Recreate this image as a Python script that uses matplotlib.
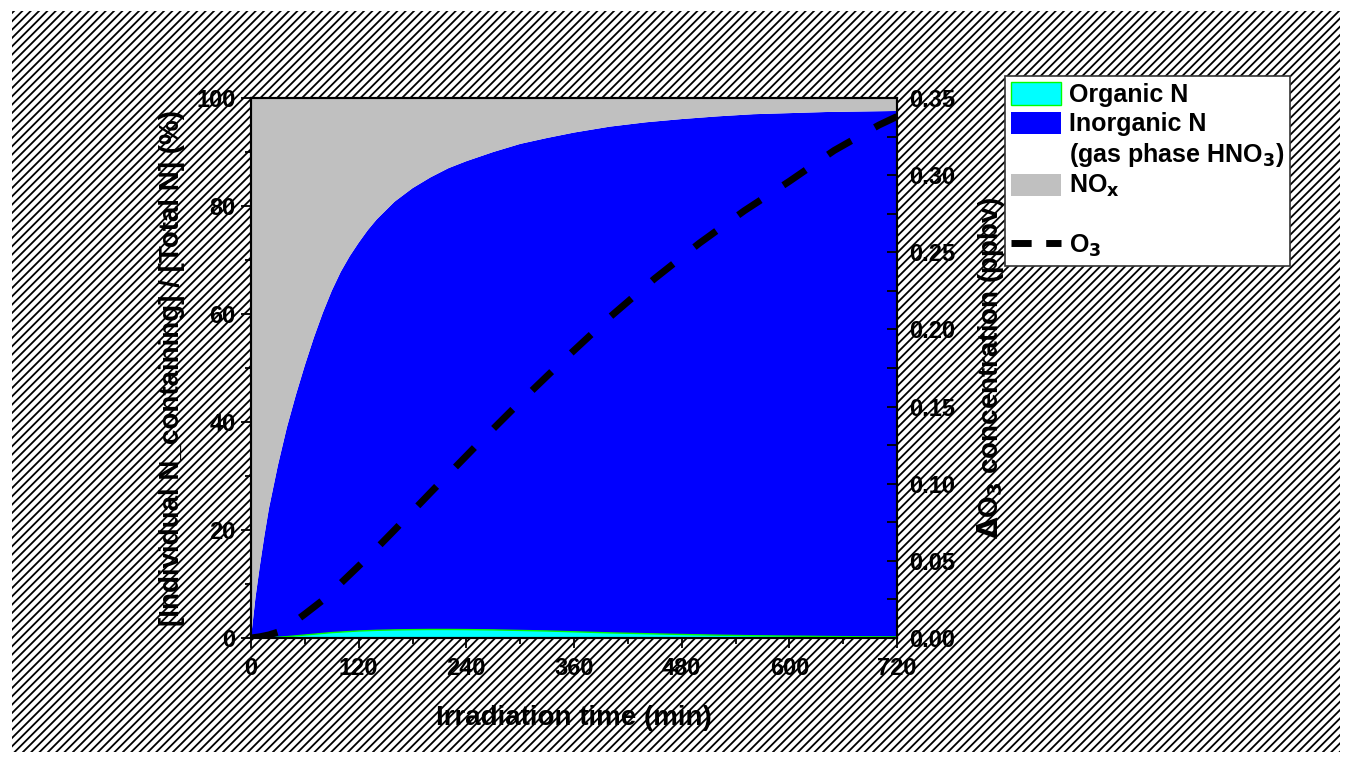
import numpy as np
import matplotlib
matplotlib.use("Agg")
import matplotlib.pyplot as plt
from matplotlib.patches import Patch, Rectangle
from matplotlib.lines import Line2D
from matplotlib.ticker import MultipleLocator, FormatStrFormatter

# irradiation time (min) for the nitrogen budget
time_n = [0, 5, 10, 15, 20, 30, 40, 50, 60, 70, 80, 90, 100, 110, 120, 130, 140, 160,
          180, 200, 220, 240, 270, 300, 330, 360, 400, 440, 480, 520, 560, 600, 640, 680, 720]
# share of total N (%)
organic_n = [0, 0.02, 0.05, 0.08, 0.1, 0.15, 0.25, 0.4, 0.55, 0.7, 0.85, 1.0, 1.1, 1.2,
             1.3, 1.36, 1.42, 1.5, 1.55, 1.58, 1.58, 1.56, 1.5, 1.4, 1.3, 1.15, 0.95, 0.8,
             0.65, 0.52, 0.42, 0.35, 0.28, 0.23, 0.2]
inorganic_n = [0, 7.48, 13.45, 18.92, 23.9, 31.85, 38.75, 44.6, 49.95, 54.9, 59.35, 63.3,
               66.7, 69.5, 71.9, 74.14, 76.08, 79.3, 81.75, 83.72, 85.42, 86.74, 88.5, 90.1,
               91.3, 92.45, 93.75, 94.7, 95.45, 96.08, 96.58, 96.85, 97.12, 97.27, 97.4]

# ozone produced (ppbv)
time_o3 = [0, 10, 20, 30, 45, 60, 80, 100, 130, 160, 200, 250, 300, 350, 400, 450,
           500, 550, 600, 650, 700, 720]
delta_o3 = [0, 0.0008, 0.002, 0.0038, 0.009, 0.0155, 0.0245, 0.0355, 0.0522, 0.070,
            0.0942, 0.124, 0.153, 0.181, 0.208, 0.233, 0.256, 0.277, 0.296, 0.316,
            0.3325, 0.338]

x_ticks = [0, 120, 240, 360, 480, 600, 720]

plt.rcParams['font.family'] = ['Liberation Sans', 'DejaVu Sans']
plt.rcParams['font.weight'] = 'bold'
plt.rcParams['mathtext.default'] = 'bf'
plt.rcParams['hatch.linewidth'] = 1.3
plt.rcParams['hatch.color'] = 'black'

CYAN = '#00ffff'
BLUE = '#0000ff'
GREY = '#c0c0c0'
W, H = 1348, 761


def main():
    fig = plt.figure(figsize=(W / 100, H / 100), dpi=100)
    fig.patch.set_facecolor('white')

    # hatched background behind everything
    bg = Rectangle((12 / W, 1 - 752 / H), 1328 / W, 741 / H, transform=fig.transFigure,
                   facecolor='white', edgecolor='black', hatch='////', linewidth=0, zorder=-10)
    fig.patches.append(bg)

    ax = fig.add_axes([251 / W, 1 - 638 / H, 646 / W, 540 / H])
    ax.set_facecolor('white')

    t = np.array(time_n, dtype=float)
    org = np.array(organic_n)
    inorg = np.array(inorganic_n)
    nox = 100 - org - inorg
    ax.stackplot(t, org, inorg, nox, colors=[CYAN, BLUE, GREY], linewidth=0)
    ax.plot(t, org, color='#00ff00', lw=1.0)

    ax.set_xlim(0, 720)
    ax.set_ylim(0, 100)
    ax.set_xticks(x_ticks)
    ax.xaxis.set_minor_locator(MultipleLocator(60))
    ax.yaxis.set_major_locator(MultipleLocator(20))
    ax.yaxis.set_minor_locator(MultipleLocator(10))
    ax.tick_params(axis='both', which='major', direction='out', length=7, width=1.3,
                   labelsize=17)
    ax.tick_params(axis='x', which='major', pad=7)
    ax.tick_params(axis='y', which='major', pad=4)
    ax.tick_params(axis='both', which='minor', direction='out', length=4, width=1.3)
    for s in ax.spines.values():
        s.set_linewidth(1.5)
    ax.set_xlabel('Irradiation time (min)', fontsize=20, fontweight='bold', labelpad=18)
    ax.set_ylabel('[Individual N_containing] / [Total N] (%)', fontsize=20,
                  fontweight='bold', labelpad=8)

    ax2 = ax.twinx()
    ax2.plot(time_o3, delta_o3, color='black', lw=5, dashes=(3.9, 3.9))
    ax2.set_ylim(0, 0.35)
    ax2.yaxis.set_major_locator(MultipleLocator(0.05))
    ax2.yaxis.set_minor_locator(MultipleLocator(0.025))
    ax2.yaxis.set_major_formatter(FormatStrFormatter('%.2f'))
    ax2.tick_params(axis='y', which='major', direction='in', length=7, width=1.3,
                    labelsize=17, pad=9)
    ax2.tick_params(axis='y', which='minor', direction='in', length=7, width=1.3)
    for s in ax2.spines.values():
        s.set_linewidth(1.5)
    ax2.set_ylabel(r'$\Delta$O$_3$ concentration (ppbv)', fontsize=20,
                   fontweight='bold', labelpad=14)

    handles = [
        Patch(facecolor=CYAN, edgecolor='#00ff00', linewidth=1),
        Patch(facecolor=BLUE, edgecolor='none'),
        Patch(facecolor='none', edgecolor='none'),
        Patch(facecolor=GREY, edgecolor='none'),
        Patch(facecolor='none', edgecolor='none'),
        Line2D([], [], color='black', lw=5, dashes=(2.9, 2.1)),
    ]
    labels = ['Organic N', 'Inorganic N', '(gas phase HNO$_3$)', 'NO$_x$', '', 'O$_3$']
    leg = fig.legend(handles, labels, loc='upper left',
                     bbox_to_anchor=(1005 / W, 1 - 76 / H),
                     prop={'size': 18, 'weight': 'bold'},
                     frameon=True, fancybox=False, framealpha=1, edgecolor='#333333',
                     handlelength=2.0, handleheight=1.0, handletextpad=0.3,
                     labelspacing=0.18, borderpad=0.25, borderaxespad=0)
    leg.get_frame().set_linewidth(1.2)

    fig.savefig('out.png', dpi=100, facecolor='white')


if __name__ == "__main__":
    main()
